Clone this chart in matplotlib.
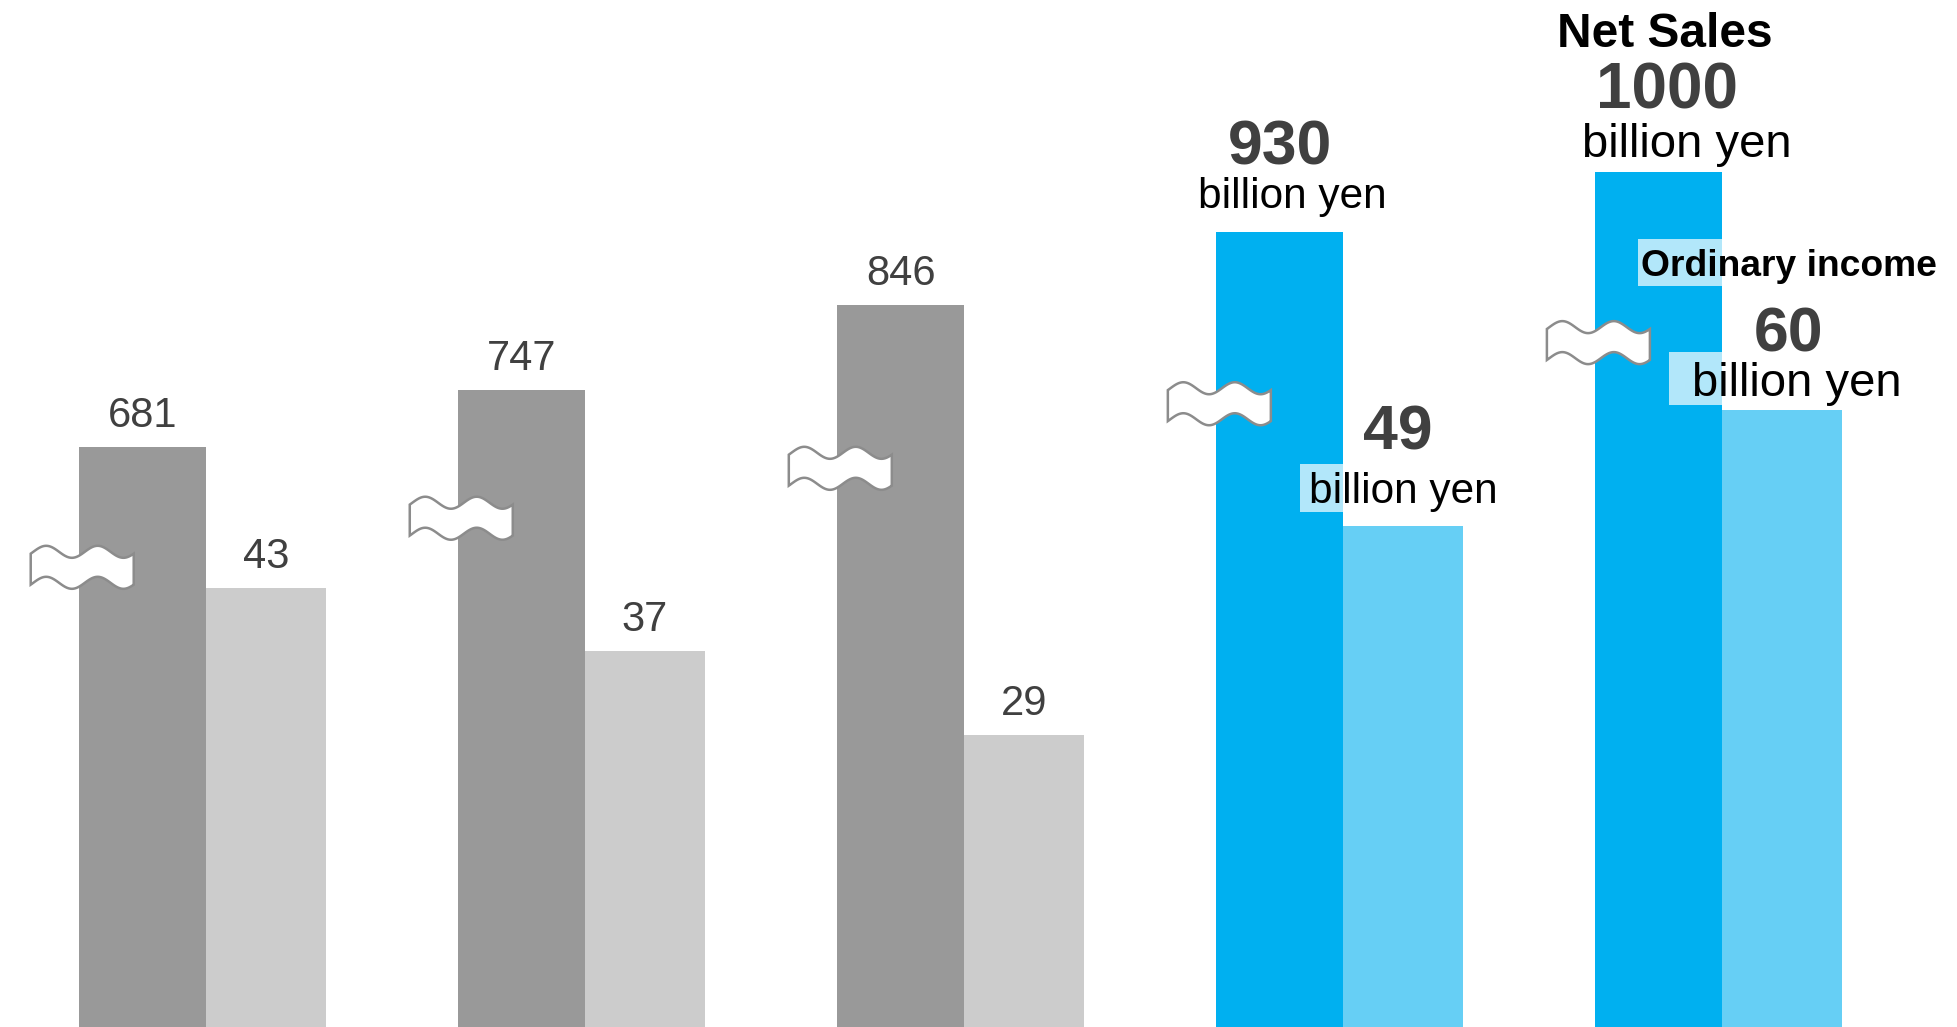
import numpy as np
import matplotlib
matplotlib.use("Agg")
import matplotlib.pyplot as plt
from matplotlib.patches import Polygon, Rectangle

plt.rcParams['font.family'] = ['Liberation Sans', 'DejaVu Sans']

# ---- data ----
groups = ["FY1", "FY2", "FY3", "FY4 plan", "FY5 target"]
net_sales = [681, 747, 846, 930, 1000]
ordinary_income = [43, 37, 29, 49, 60]
break_levels = [541, 598, 656, 731, 802]   # where the axis-break symbol sits on each net-sales bar

dark_colors = ["#999999", "#999999", "#999999", "#00B0F0", "#00B0F0"]
light_colors = ["#CCCCCC", "#CCCCCC", "#CCCCCC", "#66CFF5", "#66CFF5"]

W, H = 1957, 1027
fig = plt.figure(figsize=(W / 100, H / 100), dpi=100)
ax = fig.add_axes([0, 0, 1, 1])
ax2 = ax.twinx()
for a in (ax, ax2):
    a.set_axis_off()

x = np.arange(len(groups))
wd, wl = 0.334, 0.316
XL = (-0.543, 4.62)
YL1 = (7, 1200)
YL2 = (1.1, 99.2)
ax.set_xlim(*XL)
ax.set_ylim(*YL1)
ax2.set_ylim(*YL2)

ax.bar(x - wd, net_sales, width=wd, align='edge', color=dark_colors, linewidth=0)
ax2.bar(x, ordinary_income, width=wl, align='edge', color=light_colors, linewidth=0)

xu = (XL[1] - XL[0]) / W          # data units per pixel (x)
yu = (YL1[1] - YL1[0]) / H        # data units per pixel (left axis)
yu2 = (YL2[1] - YL2[0]) / H       # data units per pixel (right axis)

# ---- axis-break symbols ----
t = np.linspace(0, 1, 160)
half_w = 51.5 * xu
amp = 6 * yu
band = 31 * yu
wave = np.cos(2 * np.pi * (t - 0.15) / 0.5)
for i, lvl in enumerate(break_levels):
    cx = x[i] - wd + 3 * xu
    xs = cx - half_w + t * 2 * half_w
    top = lvl + band / 2 + amp * wave
    bot = lvl - band / 2 + amp * wave
    pts = np.vstack([np.column_stack([xs, top]), np.column_stack([xs[::-1], bot[::-1]])])
    ax.add_patch(Polygon(pts, closed=True, facecolor='white', edgecolor='#8c8c8c',
                         linewidth=1.8, zorder=5))

# ---- labels: past years ----
val_col = '#404040'
for i in range(3):
    ax.annotate(f"{net_sales[i]}", (x[i] - wd / 2, net_sales[i]), xytext=(0, 14.4),
                textcoords='offset points', ha='center', va='baseline', fontsize=30, color=val_col)
    ax2.annotate(f"{ordinary_income[i]}", (x[i] + wl / 2, ordinary_income[i]), xytext=(0, 14.4),
                 textcoords='offset points', ha='center', va='baseline', fontsize=30, color=val_col)

# translucent white panels behind the ordinary-income labels (left offset px, bottom px, top px above bar top)
panels = [(3, 43, 14, 61.5), (4, 53, 5, 58), (4, 84, 124, 171)]
for i, left, b, tp in panels:
    y0 = ordinary_income[i] + b * yu2
    ax2.add_patch(Rectangle((x[i] - left * xu, y0), left * xu, (tp - b) * yu2,
                            facecolor='white', alpha=0.7, edgecolor='none', zorder=4))

# group 4 net sales
i = 3
ax.annotate(f"{net_sales[i]}", (x[i] - wd / 2, net_sales[i]), xytext=(0, 49),
            textcoords='offset points', ha='center', va='baseline', fontsize=45,
            fontweight='bold', color=val_col)
ax.annotate("billion yen", (x[i] - wd / 2, net_sales[i]), xytext=(9, 17.3),
            textcoords='offset points', ha='center', va='baseline', fontsize=30.5, color='black')
# group 4 ordinary income
ax2.annotate(f"{ordinary_income[i]}", (x[i] + wl / 2, ordinary_income[i]), xytext=(-3.6, 55),
             textcoords='offset points', ha='center', va='baseline', fontsize=45,
             fontweight='bold', color=val_col, zorder=6)
ax2.annotate("billion yen", (x[i] + wl / 2, ordinary_income[i]), xytext=(0, 16.5),
             textcoords='offset points', ha='center', va='baseline', fontsize=30.5,
             color='black', zorder=6)

# group 5 net sales
i = 4
ax.annotate("Net Sales", (x[i] - wd / 2, net_sales[i]), xytext=(4.5, 90),
            textcoords='offset points', ha='center', va='baseline', fontsize=34.5,
            fontweight='bold', color='black')
ax.annotate(f"{net_sales[i]}", (x[i] - wd / 2, net_sales[i]), xytext=(6.3, 46),
            textcoords='offset points', ha='center', va='baseline', fontsize=46,
            fontweight='bold', color=val_col)
ax.annotate("billion yen", (x[i] - wd / 2, net_sales[i]), xytext=(20, 10.8),
            textcoords='offset points', ha='center', va='baseline', fontsize=34, color='black')
# group 5 ordinary income
ax2.annotate("Ordinary income", (x[i] + wl / 2, ordinary_income[i]), xytext=(5, 97),
             textcoords='offset points', ha='center', va='baseline', fontsize=26.8,
             fontweight='bold', color='black', zorder=6)
ax2.annotate(f"{ordinary_income[i]}", (x[i] + wl / 2, ordinary_income[i]), xytext=(4.5, 42.5),
             textcoords='offset points', ha='center', va='baseline', fontsize=45,
             fontweight='bold', color=val_col, zorder=6)
ax2.annotate("billion yen", (x[i] + wl / 2, ordinary_income[i]), xytext=(11, 10),
             textcoords='offset points', ha='center', va='baseline', fontsize=34,
             color='black', zorder=6)

fig.savefig("out.png", dpi=100)
